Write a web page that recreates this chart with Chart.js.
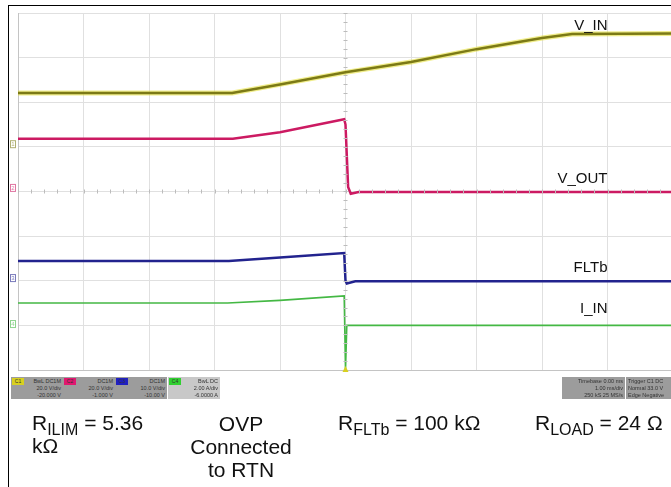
<!DOCTYPE html>
<html>
<head>
<meta charset="utf-8">
<script src="https://cdn.jsdelivr.net/npm/chart.js@4"></script>
<style>
  html, body { margin: 0; padding: 0; background: #fff; overflow: hidden; width: 671px; height: 487px; }
  body { position: relative; font-family: "Liberation Sans", Arial, sans-serif; }
  #wrap { position: absolute; left: 0; top: 0; width: 690px; height: 487px; }
  .frameTop { position: absolute; left: 8px; top: 5px; width: 700px; height: 1px; background: #000; }
  .frameLeft { position: absolute; left: 8px; top: 5px; width: 1px; height: 490px; background: #000; }
  .note { position: absolute; font-size: 21px; line-height: 23px; color: #111; white-space: nowrap; }
  .note sub { font-size: 16px; vertical-align: -5px; line-height: 0; }
  .center { text-align: center; transform: translateX(-50%); }
  .stat { position: absolute; top: 377px; height: 22px; background: #9c9c9c; font-size: 5.5px; line-height: 7px; color: #333; text-align: right; box-sizing: border-box; padding: 1px 2px 0 14px; overflow: hidden; }
  .stat .tag { position: absolute; left: 1px; top: 1px; width: 12px; height: 7px; font-size: 5px; line-height: 7px; text-align: center; color: #333; }
</style>
</head>
<body>
<div id="wrap"><canvas id="scope" width="690" height="487"></canvas></div>
<div class="frameTop"></div>
<div class="frameLeft"></div>

<div class="stat" style="left:11px;width:52px;"><div class="tag" style="background:#d8d020;">C1</div>BwL DC1M<br>20.0 V/div<br>-20.000 V</div>
<div class="stat" style="left:63px;width:52px;"><div class="tag" style="background:#e01870;">C2</div>DC1M<br>20.0 V/div<br>-1.000 V</div>
<div class="stat" style="left:115px;width:52px;"><div class="tag" style="background:#2020c0;">C3</div>DC1M<br>10.0 V/div<br>-10.00 V</div>
<div class="stat" style="left:168px;width:52px;background:#c8c8c8;"><div class="tag" style="background:#30d030;">C4</div>BwL DC<br>2.00 A/div<br>-6.0000 A</div>
<div class="stat" style="left:562px;width:63px;padding-left:2px;">Timebase 0.00 ms<br>1.00 ms/div<br>250 kS 25 MS/s</div>
<div class="stat" style="left:626px;width:50px;padding-left:2px;text-align:left;">Trigger C1 DC<br>Normal 33.0 V<br>Edge Negative</div>

<div class="note" style="left:32px;top:411px;">R<sub>ILIM</sub> = 5.36<br>kΩ</div>
<div class="note center" style="left:241px;top:412px;">OVP<br>Connected<br>to RTN</div>
<div class="note" style="left:338px;top:411px;">R<sub>FLTb</sub> = 100 kΩ</div>
<div class="note" style="left:535px;top:411px;">R<sub>LOAD</sub> = 24 Ω</div>

<script>
const vinX = [0, 3.27, 4, 5, 6, 7, 8, 8.46, 10];
const vinY = [6.21, 6.21, 6.40, 6.67, 6.90, 7.19, 7.44, 7.53, 7.54];

const voutX = [0, 3.28, 4, 4.98, 5.0, 5.04, 5.08, 5.2, 10];
const voutY = [5.18, 5.18, 5.33, 5.62, 5.5, 4.1, 3.95, 3.99, 3.99];

const fltX = [0, 3.22, 4, 4.98, 5.0, 5.02, 5.15, 10];
const fltY = [2.44, 2.44, 2.52, 2.62, 2.0, 1.94, 1.99, 1.99];

const iinX = [0, 3.2, 4, 4.98, 5.0, 5.02, 10];
const iinY = [1.50, 1.50, 1.56, 1.66, 0.0, 1.0, 1.0];

const traceLabels = ['V_IN', 'V_OUT', 'FLTb', 'I_IN'];
const labelY = [7.62, 4.18, 2.2, 1.28];
const groundLevels = [5.06, 4.08, 2.06, 1.03];
const traceColors = ['#7c7a16', '#cc1a62', '#22238e', '#44b844'];

const pts = (xs, ys) => xs.map((x, i) => ({ x: x, y: ys[i] }));

// minor ticks on center lines, trace labels, channel ground markers
const scopeDecor = {
  id: 'scopeDecor',
  afterDatasetsDraw(chart) {
    const ctx = chart.ctx;
    const xs = chart.scales.x;
    const ys = chart.scales.y;
    const cx = xs.getPixelForValue(5);
    const cy = ys.getPixelForValue(4);
    ctx.save();
    ctx.strokeStyle = '#bcbcbc';
    ctx.lineWidth = 1;
    for (let v = 0; v <= 10.001; v += 0.2) {
      const px = Math.round(xs.getPixelForValue(v)) + 0.5;
      ctx.beginPath();
      ctx.moveTo(px, cy - 2);
      ctx.lineTo(px, cy + 2);
      ctx.stroke();
    }
    for (let v = 0; v <= 8.001; v += 0.2) {
      const py = Math.round(ys.getPixelForValue(v)) + 0.5;
      ctx.beginPath();
      ctx.moveTo(cx - 2, py);
      ctx.lineTo(cx + 2, py);
      ctx.stroke();
    }

    ctx.fillStyle = '#111';
    ctx.font = '15px "Liberation Sans", Arial, sans-serif';
    ctx.textAlign = 'right';
    ctx.textBaseline = 'alphabetic';
    traceLabels.forEach((t, i) => {
      ctx.fillText(t, xs.getPixelForValue(9.0), ys.getPixelForValue(labelY[i]));
    });

    ctx.font = '6px "Liberation Sans", Arial, sans-serif';
    ctx.textAlign = 'center';
    ctx.textBaseline = 'middle';
    groundLevels.forEach((g, i) => {
      const py = ys.getPixelForValue(g);
      ctx.strokeStyle = traceColors[i];
      ctx.globalAlpha = 0.6;
      ctx.strokeRect(10.5, py - 3.5, 5, 7);
      ctx.fillStyle = traceColors[i];
      ctx.fillText(String(i + 1), 13, py);
      ctx.globalAlpha = 1;
    });

    // trigger marker
    ctx.fillStyle = '#d8d020';
    ctx.beginPath();
    ctx.moveTo(cx, ys.getPixelForValue(0) - 4);
    ctx.lineTo(cx - 3, ys.getPixelForValue(0) + 2);
    ctx.lineTo(cx + 3, ys.getPixelForValue(0) + 2);
    ctx.closePath();
    ctx.fill();
    ctx.restore();
  }
};

new Chart(document.getElementById('scope'), {
  type: 'line',
  data: {
    datasets: [
      { data: pts(vinX, vinY), borderColor: traceColors[0], borderWidth: 2.5 },
      { data: pts(voutX, voutY), borderColor: traceColors[1], borderWidth: 2.5 },
      { data: pts(fltX, fltY), borderColor: traceColors[2], borderWidth: 2.5 },
      { data: pts(iinX, iinY), borderColor: traceColors[3], borderWidth: 1.6 },
      { data: pts(vinX, vinY), borderColor: 'rgba(230,225,60,0.6)', borderWidth: 5 }
    ]
  },
  options: {
    responsive: false,
    animation: false,
    layout: { padding: { left: 18, right: 17, top: 13, bottom: 117 } },
    elements: { point: { radius: 0 }, line: { tension: 0 } },
    plugins: { legend: { display: false }, tooltip: { enabled: false } },
    scales: {
      x: {
        type: 'linear', min: 0, max: 10,
        ticks: { display: false, stepSize: 1 },
        grid: { color: '#e0e0e0', drawTicks: false },
        border: { display: true, color: '#c4c4c4' }
      },
      y: {
        type: 'linear', min: 0, max: 8,
        ticks: { display: false, stepSize: 1 },
        grid: { color: '#e0e0e0', drawTicks: false },
        border: { display: true, color: '#c4c4c4' }
      }
    }
  },
  plugins: [scopeDecor]
});
</script>
</body>
</html>
